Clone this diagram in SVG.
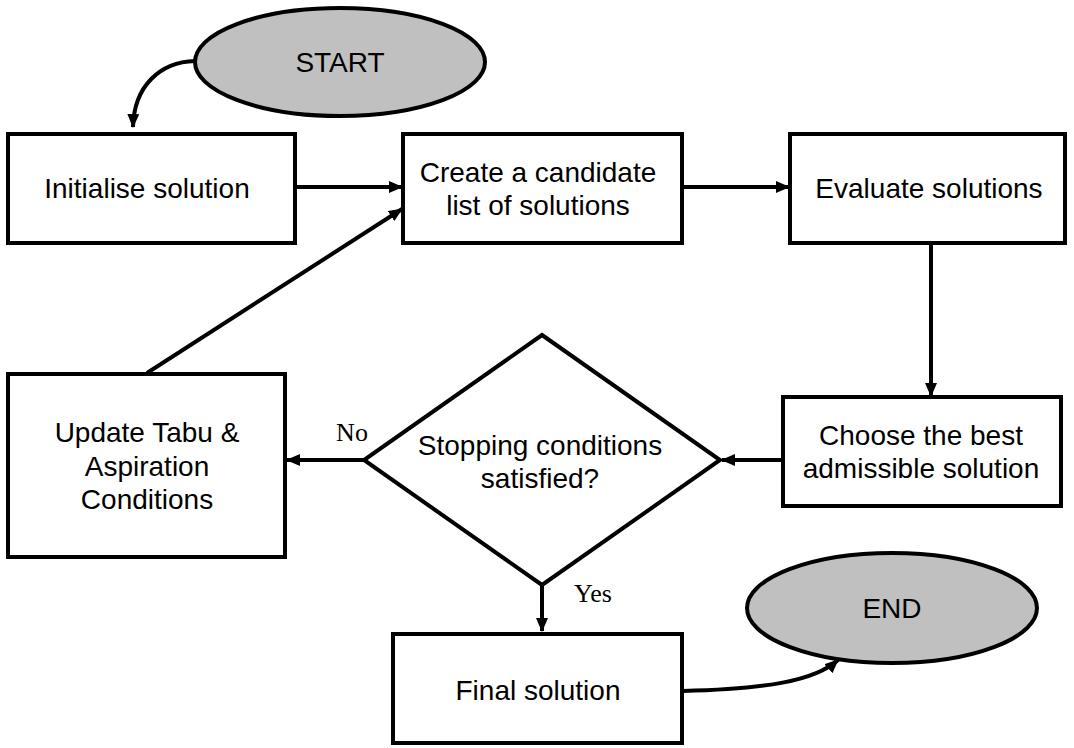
<svg xmlns="http://www.w3.org/2000/svg" width="1074" height="748" viewBox="0 0 1074 748">
  <style>
    .box { fill: #ffffff; stroke: #000000; stroke-width: 4; }
    .term { fill: #c0c0c0; stroke: #000000; stroke-width: 4; }
    .lbl { font-family: "Liberation Sans", Arial, sans-serif; font-size: 28px; fill: #000000; text-anchor: middle; }
    .yn { font-family: "Liberation Serif", "Times New Roman", serif; font-size: 26px; fill: #000000; text-anchor: middle; }
    .conn { fill: none; stroke: #000000; stroke-width: 4; marker-end: url(#arrow); }
  </style>
  <defs>
    <marker id="arrow" markerUnits="userSpaceOnUse" markerWidth="14" markerHeight="12" refX="13" refY="6" orient="auto">
      <path d="M0,0 L14,6 L0,12 Z" fill="#000000"/>
    </marker>
  </defs>
  <rect width="1074" height="748" fill="#ffffff"/>

  <g id="connectors">
    <path class="conn" d="M195,61 C160,62 134,86 133,127"/>
    <path class="conn" d="M295,187 L402,187"/>
    <path class="conn" d="M147,373 L402,209"/>
    <path class="conn" d="M682,187 L789,187"/>
    <path class="conn" d="M931,243 L931,396"/>
    <path class="conn" d="M782,460 L722,460"/>
    <path class="conn" d="M364,460 L287,460"/>
    <path class="conn" d="M542,585 L542,631"/>
    <path class="conn" d="M683,691 C765,689 815,681 838,660"/>
  </g>

  <g id="start">
    <ellipse class="term" cx="340" cy="62" rx="145" ry="54"/>
    <text class="lbl" x="340" y="72">START</text>
  </g>

  <g id="initialise">
    <rect class="box" x="8" y="134" width="287" height="109"/>
    <text class="lbl" x="147" y="198">Initialise solution</text>
  </g>

  <g id="create">
    <rect class="box" x="403" y="134" width="279" height="109"/>
    <text class="lbl" x="538" y="182">Create a candidate</text>
    <text class="lbl" x="538" y="215">list of solutions</text>
  </g>

  <g id="evaluate">
    <rect class="box" x="790" y="134" width="275" height="109"/>
    <text class="lbl" x="929" y="198">Evaluate solutions</text>
  </g>

  <g id="choose">
    <rect class="box" x="783" y="397" width="278" height="109"/>
    <text class="lbl" x="921" y="445">Choose the best</text>
    <text class="lbl" x="921" y="478">admissible solution</text>
  </g>

  <g id="decision">
    <polygon class="box" points="542,335 720,460 542,585 364,460"/>
    <text class="lbl" x="540" y="455">Stopping conditions</text>
    <text class="lbl" x="540" y="488">satisfied?</text>
  </g>

  <g id="update">
    <rect class="box" x="8" y="374" width="277" height="183"/>
    <text class="lbl" x="147" y="442">Update Tabu &amp;</text>
    <text class="lbl" x="147" y="476">Aspiration</text>
    <text class="lbl" x="147" y="509">Conditions</text>
  </g>

  <g id="final">
    <rect class="box" x="393" y="634" width="289" height="109"/>
    <text class="lbl" x="538" y="700">Final solution</text>
  </g>

  <g id="end">
    <ellipse class="term" cx="892" cy="608" rx="145" ry="55"/>
    <text class="lbl" x="892" y="618">END</text>
  </g>

  <g id="edge-labels">
    <text class="yn" x="352" y="441">No</text>
    <text class="yn" x="593" y="602">Yes</text>
  </g>
</svg>
